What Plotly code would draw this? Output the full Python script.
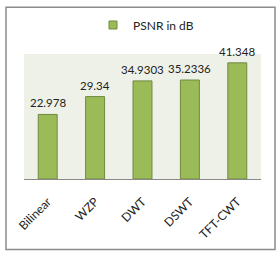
import plotly.graph_objects as go

categories = ["Bilinear", "WZP", "DWT", "DSWT", "TFT-CWT"]
psnr_values = [22.978, 29.34, 34.9303, 35.2336, 41.348]
value_labels = ["22.978", "29.34", "34.9303", "35.2336", "41.348"]

W, H = 280, 258
L, R, T, B = 24, 261, 53, 179
pw, ph = R - L, B - T

def px_x(x):
    return (x - L) / pw

def px_y(y):
    return (B - y) / ph

fig = go.Figure()
fig.add_trace(go.Bar(
    x=categories, y=psnr_values, name="PSNR in dB", showlegend=False,
    marker=dict(color="#9BBB59", line=dict(color="#71893F", width=1)),
    width=0.4,
))
# legend entry with a small square swatch
fig.add_trace(go.Scatter(
    x=[None], y=[None], mode="markers", name="PSNR in dB",
    marker=dict(symbol="square", size=8, color="#9BBB59", line=dict(color="#71893F", width=1)),
))

annotations = [
    dict(x=c, y=v, xref="x", yref="y", text=t, showarrow=False,
         yanchor="bottom", yshift=3, font=dict(size=11.5, color="#222222"))
    for c, v, t in zip(categories, psnr_values, value_labels)
]

fig.update_layout(
    width=W, height=H,
    margin=dict(l=L, r=W - R, t=T, b=H - B, pad=0),
    paper_bgcolor="white",
    plot_bgcolor="#EEF1E7",
    font=dict(family="Lato, Open Sans, sans-serif", size=12, color="#222222"),
    showlegend=True,
    legend=dict(orientation="h", x=px_x(146), y=px_y(25), xanchor="center", yanchor="middle",
                font=dict(size=12), bgcolor="rgba(0,0,0,0)", itemwidth=30),
    bargap=0.6,
    annotations=annotations,
    shapes=[dict(type="rect", xref="paper", yref="paper",
                 x0=px_x(6), x1=px_x(275), y0=px_y(250), y1=px_y(6),
                 line=dict(color="#8C8C8C", width=1.5), fillcolor="rgba(0,0,0,0)", layer="below")],
)
fig.update_xaxes(showline=True, linecolor="#888888", linewidth=1, tickangle=-45,
                 tickfont=dict(size=12), ticks="outside", ticklen=10,
                 tickcolor="rgba(0,0,0,0)", showgrid=False, fixedrange=True)
fig.update_yaxes(range=[0, 44.5], visible=False, showgrid=False)

fig.write_html("out.html")
